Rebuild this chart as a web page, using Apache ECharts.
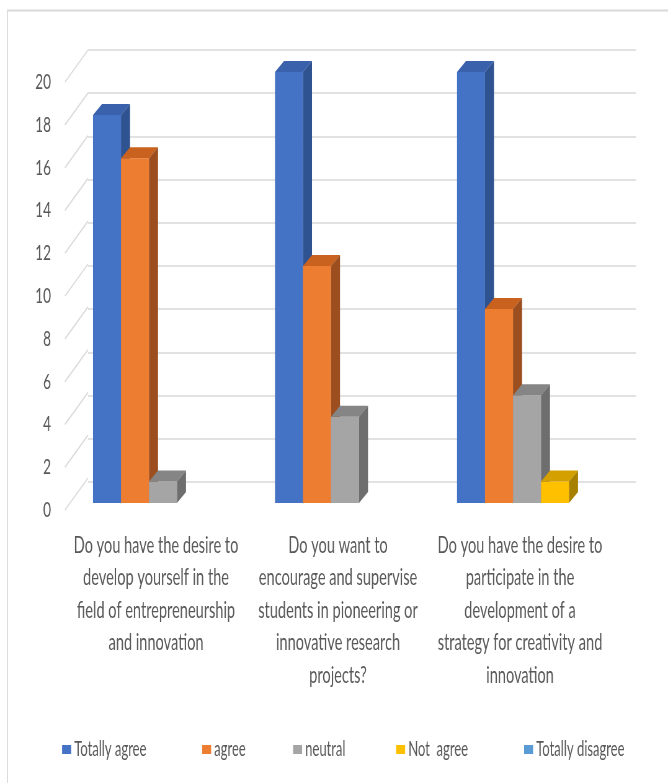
<!DOCTYPE html>
<html>
<head>
<meta charset="utf-8">
<title>3D column chart</title>
<script src="https://cdn.jsdelivr.net/npm/echarts@6/dist/echarts.min.js"></script>
<style>
  html, body { margin: 0; padding: 0; background: #ffffff; overflow: hidden; }
  /* the original picture is squeezed sideways, so draw wide and squeeze */
  #chart { width: 1077px; height: 783px; transform: scaleX(0.62024); transform-origin: 0 0; }
</style>
</head>
<body>
<div id="chart"></div>
<script>
// chart data
var categories = [
  'Do you have the desire to\ndevelop yourself in the\nfield of entrepreneurship\nand innovation',
  'Do you want to\nencourage and supervise\nstudents in pioneering or\ninnovative research\nprojects?',
  'Do you have the desire to\nparticipate in the\ndevelopment of a\nstrategy for creativity and\ninnovation'
];
var seriesNames = ['Totally agree', 'agree', 'neutral', 'Not  agree', 'Totally disagree'];
var totallyAgree = [18, 20, 20];
var agree = [16, 11, 9];
var neutral = [1, 4, 5];
var notAgree = [0, 0, 1];
var totallyDisagree = [0, 0, 0];
var yTicks = [0, 2, 4, 6, 8, 10, 12, 14, 16, 18, 20];

var seriesValues = [totallyAgree, agree, neutral, notAgree, totallyDisagree];
var frontColors = ['#4472C4', '#ED7D31', '#A5A5A5', '#FFC000', '#5B9BD5'];
var topColors   = ['#3A62AC', '#C9621F', '#858585', '#D4A000', '#4A86BE'];
var sideColors  = ['#2F5290', '#9C4E1E', '#6E6E6E', '#A88000', '#3D73A6'];

var FONT = 'Lato, "Open Sans", sans-serif';
var SX = 0.62024;                 // horizontal squeeze
var BAR_W = 28 / SX;              // width of one column
var BAR_DX = 9 / SX, BAR_DY = -11;    // column depth
var WALL_DX = 23 / SX, WALL_DY = -32; // front plane -> back wall
var legendLeft = [59, 199, 290, 393, 521];

var chart = echarts.init(document.getElementById('chart'));

function barRenderer(idx) {
  return function (params, api) {
    var v = api.value(1);
    if (!v) return null;
    var cat = api.value(0);
    var base = api.coord([cat, 0]);
    var top = api.coord([cat, v]);
    var x0 = base[0] - 2.5 * BAR_W + idx * BAR_W;
    var x1 = x0 + BAR_W;
    var yb = base[1], yt = top[1];
    return {
      type: 'group',
      children: [
        { type: 'polygon', shape: { points: [[x0, yb], [x0, yt], [x1, yt], [x1, yb]] },
          style: { fill: frontColors[idx] } },
        { type: 'polygon', shape: { points: [[x0, yt], [x0 + BAR_DX, yt + BAR_DY], [x1 + BAR_DX, yt + BAR_DY], [x1, yt]] },
          style: { fill: topColors[idx] } },
        { type: 'polygon', shape: { points: [[x1, yt], [x1 + BAR_DX, yt + BAR_DY], [x1 + BAR_DX, yb + BAR_DY], [x1, yb]] },
          style: { fill: sideColors[idx] } }
      ]
    };
  };
}

var series = seriesNames.map(function (name, i) {
  return {
    name: name,
    type: 'custom',
    xAxisIndex: 0,
    yAxisIndex: 0,
    itemStyle: { color: frontColors[i] },
    renderItem: barRenderer(i),
    encode: { x: 0, y: 1 },
    data: seriesValues[i].map(function (v, c) { return [c, v]; }),
    z: 3
  };
});

// diagonal lines from the label plane to the back wall
series.push({
  name: 'walls',
  type: 'custom',
  xAxisIndex: 2,
  yAxisIndex: 2,
  silent: true,
  z: 1,
  renderItem: function (params, api) {
    var p = api.coord([0, api.value(1)]);
    var x = p[0] - api.size([1, 0])[0] / 2;
    return {
      type: 'line',
      shape: { x1: x, y1: p[1], x2: x + WALL_DX, y2: p[1] + WALL_DY },
      style: { stroke: '#d9d9d9', lineWidth: 1.6 }
    };
  },
  data: yTicks.map(function (t) { return [0, t]; })
});

var legends = seriesNames.map(function (name, i) {
  return {
    top: 734,
    left: legendLeft[i] / SX,
    icon: 'rect',
    itemWidth: 9 / SX,
    itemHeight: 9,
    data: [name],
    textStyle: { fontFamily: FONT, fontSize: 21, color: '#595959' }
  };
});

chart.setOption({
  backgroundColor: '#ffffff',
  animation: false,
  color: frontColors,
  graphic: [{
    type: 'rect',
    silent: true,
    shape: { x: 7.5 / SX, y: 10.5, width: 1200, height: 800 },
    style: { fill: 'none', stroke: '#d9d9d9', lineWidth: 1.8 }
  }],
  legend: legends,
  grid: [
    // column front plane
    { left: 72 / SX, right: 668 / SX - 618 / SX, top: 72, bottom: 280 },
    // back wall
    { left: 88 / SX, right: 668 / SX - 636 / SX, top: 50, bottom: 301 },
    // label plane
    { left: 65 / SX, right: 668 / SX - 611 / SX, top: 82, bottom: 273 }
  ],
  xAxis: [
    { type: 'category', gridIndex: 0, data: categories, show: false },
    { type: 'category', gridIndex: 1, data: categories, show: false },
    {
      type: 'category', gridIndex: 2, data: categories,
      axisLine: { show: false }, axisTick: { show: false },
      axisLabel: { interval: 0, margin: 19, fontFamily: FONT, fontSize: 23.5, lineHeight: 32.5, color: '#595959', align: 'center' }
    }
  ],
  yAxis: [
    { type: 'value', gridIndex: 0, min: 0, max: 20, interval: 2, show: false },
    {
      type: 'value', gridIndex: 1, min: 0, max: 20, interval: 2,
      axisLine: { show: false }, axisTick: { show: false }, axisLabel: { show: false },
      splitLine: { show: true, lineStyle: { color: '#d9d9d9', width: 1.6 } }
    },
    {
      type: 'value', gridIndex: 2, min: 0, max: 20, interval: 2,
      axisLine: { show: false }, axisTick: { show: false }, splitLine: { show: false },
      axisLabel: { margin: 14 / SX, fontFamily: FONT, fontSize: 22, color: '#595959' }
    }
  ],
  series: series
});
</script>
</body>
</html>
